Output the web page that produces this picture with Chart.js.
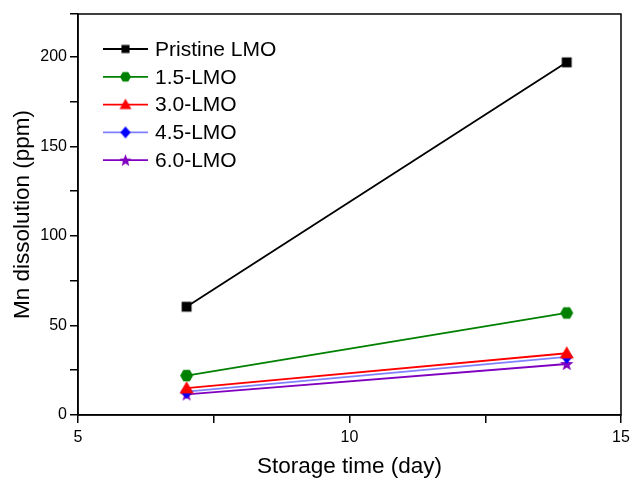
<!DOCTYPE html>
<html>
<head>
<meta charset="utf-8">
<script src="https://cdn.jsdelivr.net/npm/chart.js@4/dist/chart.umd.min.js"></script>
<style>
  html, body { margin: 0; padding: 0; background: #fff; }
  #wrap { width: 630px; height: 480px; }
</style>
</head>
<body>
<div id="wrap"><canvas id="myChart"></canvas></div>
<script>
  // storage time (day)
  const days = [7, 14];
  // Mn dissolution (ppm)
  const pristine = [60.5, 197];
  const lmo15 = [22, 57];
  const lmo30 = [15, 34.5];
  const lmo45 = [13, 32.5];
  const lmo60 = [11.5, 28.5];

  const seriesNames = ['Pristine LMO', '1.5-LMO', '3.0-LMO', '4.5-LMO', '6.0-LMO'];
  const xTicks = [5, 7.5, 10, 12.5, 15];
  const xLabels = ['5', '', '10', '', '15'];
  const yTicks = [0, 25, 50, 75, 100, 125, 150, 175, 200, 224];
  const yLabels = ['0', '', '50', '', '100', '', '150', '', '200', ''];

  const FONT = '"Liberation Sans", Arial, sans-serif';

  function marker(shape, size, color) {
    const c = document.createElement('canvas');
    const s = Math.ceil(size) + 2;
    c.width = s; c.height = s;
    const g = c.getContext('2d');
    const m = s / 2, r = size / 2;
    g.fillStyle = color;
    g.beginPath();
    if (shape === 'square') {
      g.rect(m - r * 0.9, m - r * 0.9, r * 1.8, r * 1.8);
    } else if (shape === 'hex') {
      for (let i = 0; i < 6; i++) {
        const a = Math.PI / 6 + i * Math.PI / 3 - Math.PI / 2;
        const px = m + r * Math.cos(a), py = m + r * Math.sin(a);
        i ? g.lineTo(px, py) : g.moveTo(px, py);
      }
    } else if (shape === 'tri') {
      g.moveTo(m, m - r);
      g.lineTo(m + r, m + r * 0.75);
      g.lineTo(m - r, m + r * 0.75);
    } else if (shape === 'diamond') {
      g.moveTo(m, m - r);
      g.lineTo(m + r * 0.85, m);
      g.lineTo(m, m + r);
      g.lineTo(m - r * 0.85, m);
    } else if (shape === 'star') {
      for (let i = 0; i < 10; i++) {
        const rr = i % 2 ? r * 0.42 : r;
        const a = -Math.PI / 2 + i * Math.PI / 5;
        const px = m + rr * Math.cos(a), py = m + 0.5 + rr * Math.sin(a);
        i ? g.lineTo(px, py) : g.moveTo(px, py);
      }
    }
    g.closePath();
    g.fill();
    return c;
  }

  const styles = [
    { line: '#000000', fill: '#000000', shape: 'square' },
    { line: '#008000', fill: '#008000', shape: 'hex' },
    { line: '#ff0000', fill: '#ff0000', shape: 'tri' },
    { line: '#8080ff', fill: '#0000ff', shape: 'diamond' },
    { line: '#8000c0', fill: '#8000c0', shape: 'star' }
  ];
  const pointSizes = [11, 13, 14, 14, 14];
  const legendSizes = [9, 11, 12, 12, 13];
  const allValues = [pristine, lmo15, lmo30, lmo45, lmo60];

  const datasets = allValues.map((vals, i) => ({
    label: seriesNames[i],
    data: days.map((d, j) => ({ x: d, y: vals[j] })),
    showLine: true,
    borderColor: styles[i].line,
    borderWidth: 1.8,
    pointStyle: marker(styles[i].shape, pointSizes[i], styles[i].fill),
    pointRadius: 7
  }));

  const boxAndLegend = {
    id: 'boxAndLegend',
    afterDatasetsDraw(chart) {
      const { ctx, chartArea: a } = chart;
      ctx.save();
      ctx.strokeStyle = '#000';
      ctx.lineWidth = 1.5;
      ctx.strokeRect(a.left, a.top, a.right - a.left, a.bottom - a.top);

      ctx.font = '21px ' + FONT;
      ctx.textBaseline = 'middle';
      ctx.fillStyle = '#000';
      seriesNames.forEach((name, i) => {
        const y = 49 + i * 27.8;
        ctx.strokeStyle = styles[i].line;
        ctx.lineWidth = 1.8;
        ctx.beginPath();
        ctx.moveTo(103, y);
        ctx.lineTo(148, y);
        ctx.stroke();
        const img = marker(styles[i].shape, legendSizes[i], styles[i].fill);
        ctx.drawImage(img, 125.5 - img.width / 2, y - img.height / 2);
        ctx.fillStyle = '#000';
        ctx.fillText(name, 155, y + 1);
      });
      ctx.restore();
    }
  };

  new Chart(document.getElementById('myChart'), {
    type: 'scatter',
    data: { datasets },
    options: {
      responsive: true,
      maintainAspectRatio: false,
      animation: false,
      layout: { padding: { top: 14, right: 9, left: 9, bottom: 0 } },
      plugins: { legend: { display: false }, tooltip: { enabled: false } },
      scales: {
        x: {
          type: 'linear',
          min: 5,
          max: 15,
          afterBuildTicks: axis => { axis.ticks = xTicks.map(v => ({ value: v })); },
          afterFit: axis => {
            axis.height = 65;
            axis.paddingLeft = 0;
            axis.paddingRight = 0;
          },
          ticks: {
            color: '#000',
            font: { family: FONT, size: 16 },
            padding: 5,
            maxRotation: 0,
            autoSkip: false,
            callback: (v, i) => xLabels[i]
          },
          grid: { drawOnChartArea: false, color: '#000', tickLength: 8, lineWidth: 1.5 },
          border: { color: '#000', width: 1.5 },
          title: {
            display: true,
            text: 'Storage time (day)',
            color: '#000',
            font: { family: FONT, size: 22.5 },
            padding: { top: 6, bottom: 0 }
          }
        },
        y: {
          min: 0,
          max: 224,
          afterBuildTicks: axis => { axis.ticks = yTicks.map(v => ({ value: v })); },
          afterFit: axis => { axis.width = 69; },
          ticks: {
            color: '#000',
            font: { family: FONT, size: 16 },
            padding: 3,
            autoSkip: false,
            callback: (v, i) => yLabels[i]
          },
          grid: { drawOnChartArea: false, color: '#000', tickLength: 8, lineWidth: 1.5 },
          border: { color: '#000', width: 1.5 },
          title: {
            display: true,
            text: 'Mn dissolution (ppm)',
            color: '#000',
            font: { family: FONT, size: 22.5 },
            padding: { top: 0, bottom: 0 }
          }
        }
      }
    },
    plugins: [boxAndLegend]
  });
</script>
</body>
</html>
